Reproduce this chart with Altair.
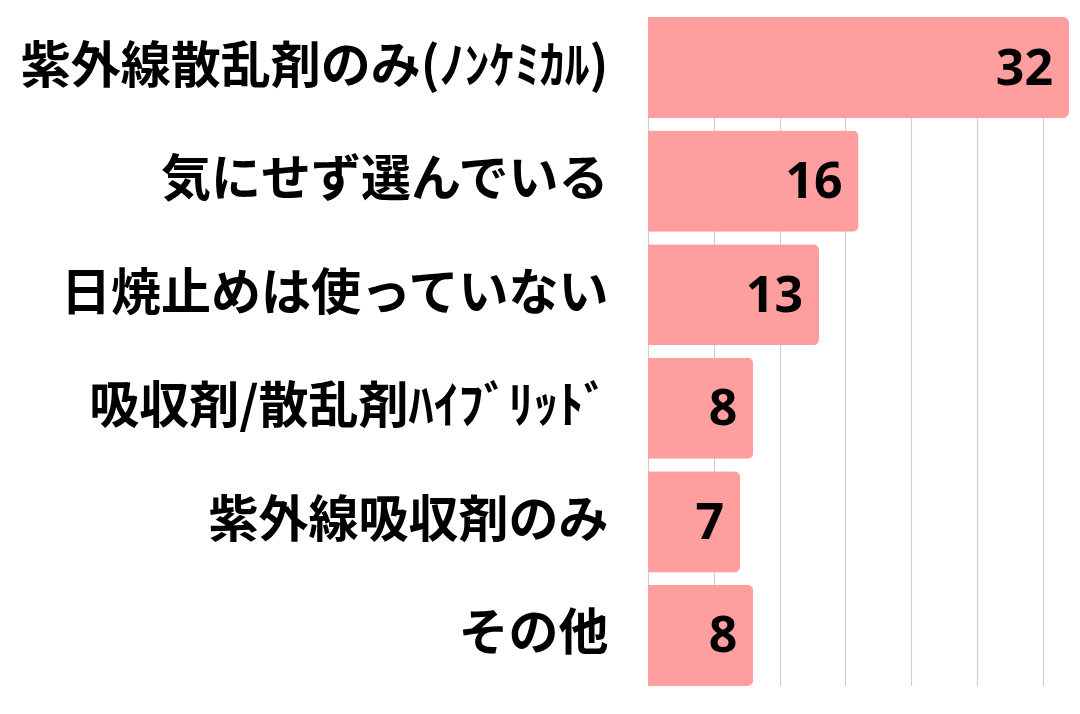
import altair as alt
import pandas as pd

categories = ["紫外線散乱剤のみ(ﾉﾝｹﾐｶﾙ)", "気にせず選んでいる", "日焼止めは使っていない",
              "吸収剤/散乱剤ﾊｲﾌﾞﾘｯﾄﾞ", "紫外線吸収剤のみ", "その他"]
values = [32, 16, 13, 8, 7, 8]

df = pd.DataFrame({"cat": categories, "val": values})

JP = "Noto Sans CJK JP"

y_enc = alt.Y("cat:N", sort=categories, title=None,
              scale=alt.Scale(paddingInner=0.11, paddingOuter=0),
              axis=alt.Axis(labelFont=JP, labelFontSize=50, labelFontWeight="bold",
                            labelColor="#000000", labelPadding=40, labelLimit=700,
                            domain=False, ticks=False, grid=False))
x_enc = alt.X("val:Q", title=None,
              scale=alt.Scale(domain=[0, 32], nice=False, zero=True),
              axis=alt.Axis(values=[0, 5, 10, 15, 20, 25, 30], labels=False, ticks=False,
                            domain=False, grid=True, gridColor="#cfcfcf", gridWidth=1.2))

bars = alt.Chart(df).mark_bar(color="#FF9E9E", cornerRadiusEnd=6).encode(x=x_enc, y=y_enc)

text = alt.Chart(df).mark_text(align="right", baseline="middle", dx=-16, dy=2,
                               font="Noto Sans", fontSize=50, fontWeight="bold",
                               color="#000000").encode(
    x=alt.X("val:Q"), y=alt.Y("cat:N", sort=categories), text=alt.Text("val:Q"))

chart = (bars + text).properties(
    width=421, height=669,
    autosize=alt.AutoSizeParams(type="none"),
    padding={"left": 640, "top": 9, "right": 0, "bottom": 0},
    background="#ffffff",
).configure_view(stroke=None)

chart.save("out.html", embed_options={"renderer": "svg", "actions": False})
